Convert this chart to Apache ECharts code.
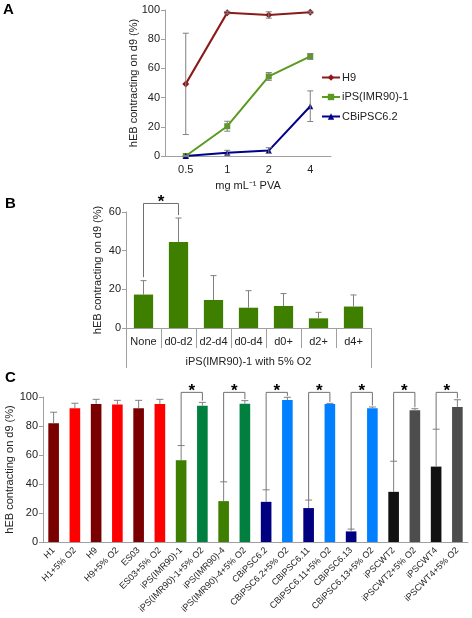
<!DOCTYPE html>
<html><head><meta charset="utf-8">
<script src="https://cdn.jsdelivr.net/npm/echarts@6/dist/echarts.min.js"></script>
<style>html,body{margin:0;padding:0;background:#fff}#c{width:472px;height:618px}</style>
</head><body><div id="c"></div>
<script>
// ---------- Panel A data ----------
const catsA = ['0.5', '1', '2', '4'];
const namesA = ['H9', 'iPS(IMR90)-1', 'CBiPSC6.2'];
const h9A = [49.4, 98.2, 96.6, 98.4];
const h9AErr = [34.7, 0.8, 2.2, 0.7];
const ipsA = [0, 20.4, 54.5, 68.2];
const ipsAErr = [0.4, 3.4, 2.7, 2.0];
const cbA = [0, 2.3, 3.7, 34.1];
const cbAErr = [0.3, 1.6, 2.0, 10.5];

// ---------- Panel B data ----------
const catsB = ['None', 'd0-d2', 'd2-d4', 'd0-d4', 'd0+', 'd2+', 'd4+'];
const groupB = ['iPS(IMR90)-1 with 5% O2'];
const valsB = [17.3, 44.5, 14.5, 10.5, 11.4, 5.0, 11.1];
const errTopB = [24.5, 56.9, 27.1, 19.3, 17.8, 8.1, 17.1];
// [left index, right index, left leg end, right leg end, bracket top]
const bracketsB = [[0, 1, 26.3, 58.4, 64.4]];

// ---------- Panel C data ----------
const catsC = ['H1', 'H1+5% O2', 'H9', 'H9+5% O2', 'ES03', 'ES03+5% O2',
  'iPS(IMR90)-1', 'iPS(IMR90)-1+5% O2', 'iPS(IMR90)-4', 'iPS(IMR90)-4+5% O2',
  'CBiPSC6.2', 'CBiPSC6.2+5% O2', 'CBiPSC6.11', 'CBiPSC6.11+5% O2',
  'CBiPSC6.13', 'CBiPSC6.13+5% O2', 'iPSCWT2', 'iPSCWT2+5% O2', 'iPSCWT4', 'iPSCWT4+5% O2'];
const valsC = [81.9, 92.2, 95.2, 94.9, 92.2, 95.2, 56.4, 94.0, 28.2, 95.4,
  27.7, 97.9, 23.4, 95.2, 7.3, 92.2, 34.6, 90.8, 52.0, 93.1];
const errTopC = [89.5, 95.7, 98.4, 97.7, 97.7, 98.4, 66.5, 96.3, 41.5, 97.5,
  36.0, 99.8, 28.9, 95.6, 8.9, 93.1, 55.7, 91.9, 77.8, 98.1];
const bracketsC = [
  [6, 7, 66.5, 97.5, 103.2], [8, 9, 41.5, 98.5, 103.2], [10, 11, 36.0, 100.8, 103.2],
  [12, 13, 28.9, 96.6, 103.2], [14, 15, 8.9, 94.1, 103.2], [16, 17, 55.7, 92.9, 103.2],
  [18, 19, 77.8, 99.1, 103.2]
];

// ---------- styles ----------
const FONT = 'Liberation Sans, Arial, sans-serif';
const AXIS_GRAY = '#a0a0a0';
const ERR_GRAY = '#808080';
const colorsA = ['#8b1a1a', '#5a9a1e', '#00008b'];
const symbolsA = ['diamond', 'rect', 'triangle'];
const colorB = '#3f7f00';
const colorsC = ['#7a0000', '#ff0000', '#7a0000', '#ff0000', '#7a0000', '#ff0000',
  '#3f7f00', '#007f3f', '#3f7f00', '#007f3f',
  '#000080', '#0080ff', '#000080', '#0080ff', '#000080', '#0080ff',
  '#111111', '#4d4d4d', '#111111', '#4d4d4d'];

function symErr(params, api) {
  const x = api.value(0), v = api.value(1), e = api.value(2);
  const lo = api.coord([x, v - e]), hi = api.coord([x, v + e]);
  const w = 3;
  const st = { stroke: ERR_GRAY, lineWidth: 1 };
  return { type: 'group', children: [
    { type: 'line', shape: { x1: lo[0], y1: lo[1], x2: hi[0], y2: hi[1] }, style: st },
    { type: 'line', shape: { x1: lo[0] - w, y1: lo[1], x2: lo[0] + w, y2: lo[1] }, style: st },
    { type: 'line', shape: { x1: hi[0] - w, y1: hi[1], x2: hi[0] + w, y2: hi[1] }, style: st }
  ]};
}
function upErr(w) {
  return function (params, api) {
    const x = api.value(0), v = api.value(1), e = api.value(2);
    const lo = api.coord([x, v]), hi = api.coord([x, e]);
    const st = { stroke: ERR_GRAY, lineWidth: 1 };
    return { type: 'group', children: [
      { type: 'line', shape: { x1: lo[0], y1: lo[1], x2: hi[0], y2: hi[1] }, style: st },
      { type: 'line', shape: { x1: hi[0] - w, y1: hi[1], x2: hi[0] + w, y2: hi[1] }, style: st }
    ]};
  };
}
function bracket(params, api) {
  const l = api.value(0), r = api.value(1), le = api.value(2), re = api.value(3), top = api.value(4);
  const pl = api.coord([l, le]), pr = api.coord([r, re]), pt = api.coord([l, top]);
  return { type: 'group', children: [
    { type: 'polyline', shape: { points: [[pl[0], pl[1]], [pl[0], pt[1]], [pr[0], pt[1]], [pr[0], pr[1]]] },
      style: { stroke: '#707070', fill: null, lineWidth: 1 } },
    { type: 'text', x: (pl[0] + pr[0]) / 2, y: pt[1] + 7,
      style: { text: '*', font: 'bold 17px ' + FONT, fill: '#000', align: 'center', verticalAlign: 'bottom' } }
  ]};
}

const yAxisCommon = (gi, max, name, gap) => ({
  type: 'value', gridIndex: gi, min: 0, max: max, interval: 20,
  name: name, nameLocation: 'middle', nameGap: gap, nameMoveOverlap: false,
  nameTextStyle: { fontSize: 11, color: '#222', fontFamily: FONT },
  axisLine: { show: true, lineStyle: { color: AXIS_GRAY } },
  axisTick: { show: true, length: 4, lineStyle: { color: AXIS_GRAY } },
  axisLabel: { fontSize: 11, color: '#222', margin: 5, fontFamily: FONT },
  splitLine: { show: false }
});

const chart = echarts.init(document.getElementById('c'), null, { renderer: 'canvas' });
const option = {
  backgroundColor: '#fff',
  animation: false,
  textStyle: { fontFamily: FONT },
  grid: [
    { left: 165, top: 10, width: 166, height: 146, outerBoundsMode: 'none' },
    { left: 126, top: 212, width: 245, height: 116, outerBoundsMode: 'none' },
    { left: 43, top: 397, width: 425, height: 145, outerBoundsMode: 'none' }
  ],
  legend: {
    orient: 'vertical', left: 316, top: 67, itemWidth: 18, itemHeight: 8, itemGap: 8.5,
    textStyle: { fontSize: 11, color: '#222', fontFamily: FONT, padding: [0, 0, 0, -3] },
    data: namesA
  },
  xAxis: [
    { type: 'category', gridIndex: 0, data: catsA,
      name: 'mg mL\u207B\u00B9 PVA', nameLocation: 'middle', nameGap: 24,
      nameTextStyle: { fontSize: 11, color: '#222', fontFamily: FONT },
      axisLine: { lineStyle: { color: AXIS_GRAY } },
      axisTick: { length: 4, lineStyle: { color: AXIS_GRAY } },
      axisLabel: { fontSize: 11, color: '#222', margin: 8, fontFamily: FONT } },
    { type: 'category', gridIndex: 1, data: catsB, position: 'bottom',
      axisLine: { lineStyle: { color: AXIS_GRAY } },
      axisTick: { show: true, length: 20, interval: 0, alignWithLabel: false, lineStyle: { color: AXIS_GRAY, width: 1 } },
      axisLabel: { fontSize: 11, color: '#222', margin: 8, interval: 0, fontFamily: FONT } },
    { type: 'category', gridIndex: 1, data: groupB, position: 'bottom', offset: 0,
      axisLine: { show: false },
      axisTick: { show: true, length: 40, lineStyle: { color: AXIS_GRAY } },
      axisLabel: { fontSize: 11, color: '#222', margin: 28, fontFamily: FONT } },
    { type: 'category', gridIndex: 2, data: catsC,
      axisLine: { lineStyle: { color: AXIS_GRAY } },
      axisTick: { length: 4, interval: 0, lineStyle: { color: AXIS_GRAY } },
      axisLabel: { fontSize: 9, color: '#222', margin: 7, interval: 0, rotate: 45, fontFamily: FONT } }
  ],
  yAxis: [
    yAxisCommon(0, 100, 'hEB contracting on d9 (%)', 26),
    yAxisCommon(1, 60, 'hEB contracting on d9 (%)', 23),
    yAxisCommon(2, 100, 'hEB contracting on d9 (%)', 28)
  ],
  series: [
    ...[h9A, ipsA, cbA].map((d, i) => ({
      type: 'line', name: namesA[i], xAxisIndex: 0, yAxisIndex: 0, data: d,
      symbol: symbolsA[i], symbolSize: i === 0 ? 7 : 6, showSymbol: true,
      lineStyle: { color: colorsA[i], width: 2 }, itemStyle: { color: colorsA[i] }, z: 3
    })),
    ...[[h9A, h9AErr], [ipsA, ipsAErr], [cbA, cbAErr]].map(([v, e]) => ({
      type: 'custom', xAxisIndex: 0, yAxisIndex: 0, renderItem: symErr, z: 4,
      encode: { x: 0, y: [1, 2] }, data: v.map((val, i) => [i, val, e[i]]), silent: true
    })),
    { type: 'bar', xAxisIndex: 1, yAxisIndex: 1, data: valsB, barWidth: '55%',
      itemStyle: { color: colorB } },
    { type: 'custom', xAxisIndex: 1, yAxisIndex: 1, renderItem: upErr(3), z: 4,
      encode: { x: 0, y: [1, 2] }, data: valsB.map((v, i) => [i, v, errTopB[i]]) },
    { type: 'custom', xAxisIndex: 1, yAxisIndex: 1, renderItem: bracket, z: 5, clip: false,
      encode: { x: [0, 1], y: [2, 3, 4] }, data: bracketsB },
    { type: 'bar', xAxisIndex: 3, yAxisIndex: 2, data: valsC, barWidth: '50%',
      itemStyle: { color: (p) => colorsC[p.dataIndex] } },
    { type: 'custom', xAxisIndex: 3, yAxisIndex: 2, renderItem: upErr(3.5), z: 4,
      encode: { x: 0, y: [1, 2] }, data: valsC.map((v, i) => [i, v, errTopC[i]]) },
    { type: 'custom', xAxisIndex: 3, yAxisIndex: 2, renderItem: bracket, z: 5, clip: false,
      encode: { x: [0, 1], y: [2, 3, 4] }, data: bracketsC }
  ],
  graphic: [
    { type: 'text', left: 3, top: 2, style: { text: 'A', font: 'bold 15px ' + FONT, fill: '#000' } },
    { type: 'text', left: 5, top: 196, style: { text: 'B', font: 'bold 15px ' + FONT, fill: '#000' } },
    { type: 'text', left: 5, top: 370, style: { text: 'C', font: 'bold 15px ' + FONT, fill: '#000' } }
  ]
};
chart.setOption(option);
</script>
</body></html>
